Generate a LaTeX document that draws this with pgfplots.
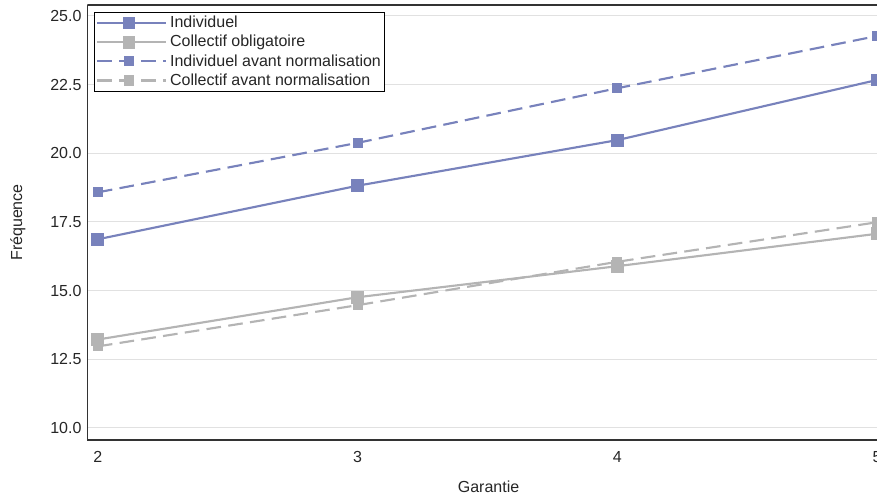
\documentclass[border=0pt]{standalone}
\usepackage{pgfplots}
\pgfplotsset{compat=1.18}
\usepackage{fontspec}
\setmainfont{Liberation Sans}
\definecolor{cblue}{RGB}{120,130,188}
\definecolor{cgray}{RGB}{180,180,180}
\definecolor{gridc}{RGB}{225,225,225}
\begin{document}
\begin{tikzpicture}[x=1pt,y=1pt]
\begin{axis}[
  scale only axis,
  width=592.1pt, height=326.25pt,
  xmin=1.96, xmax=5.0,
  ymin=9.56, ymax=25.4,
  xtick={2,3,4,5},
  ytick={10,12.5,15,17.5,20,22.5,25},
  yticklabel style={/pgf/number format/fixed,/pgf/number format/fixed zerofill,/pgf/number format/precision=1},
  /pgf/number format/assume math mode=true,
  major tick length=0pt,
  ymajorgrids, grid style={gridc, line width=0.75pt},
  axis line style={black!80, line width=1pt},
  axis x line*=bottom, axis y line*=left,
  ticklabel style={font=\fontsize{12}{14}\selectfont, text=black!85},
  xticklabel style={yshift=-5pt},
  yticklabel style={xshift=-1pt},
  xlabel={Garantie}, ylabel={Fréquence},
  label style={font=\fontsize{12}{14}\selectfont, text=black!85},
  xlabel style={at={(axis description cs:0.508,-0.108)}, anchor=center},
  ylabel style={at={(axis description cs:-0.088,0.5)}, anchor=center},
  clip marker paths=true,
  legend style={at={(0,1)}, anchor=north west, xshift=5pt, yshift=-5pt,
    draw=black, line width=0.75pt, fill=white, inner sep=1pt,
    font=\fontsize{12}{14}\selectfont, row sep=0.2pt, text=black!85},
  legend cell align=left,
  legend image code/.code={
    \path (0pt,0pt) -- (52pt,0pt);
    \draw[#1, mark repeat=2, mark phase=2] plot coordinates {(0pt,0pt) (24pt,0pt) (48pt,0pt)};
  },
]
\draw[black!80, line width=1pt] (rel axis cs:0,1) -- (rel axis cs:1,1);
\addplot[cblue, line width=1.6pt, mark=square*, mark size=4pt, mark options={solid}]
  coordinates {(2,16.87) (3,18.82) (4,20.48) (5,22.67)};
\addlegendentry{Individuel}
\addplot[cgray, line width=1.6pt, mark=square*, mark size=4pt, mark options={solid}]
  coordinates {(2,13.22) (3,14.76) (4,15.89) (5,17.07)};
\addlegendentry{Collectif obligatoire}
\addplot[cblue, line width=1.6pt, dash pattern=on 11pt off 5.5pt, mark=square*, mark size=3pt, mark options={solid}]
  coordinates {(2,18.58) (3,20.38) (4,22.37) (5,24.27)};
\addlegendentry{Individuel avant normalisation}
\addplot[cgray, line width=1.6pt, dash pattern=on 11pt off 5.5pt, mark=square*, mark size=3pt, mark options={solid}]
  coordinates {(2,12.97) (3,14.47) (4,16.05) (5,17.49)};
\addlegendentry{Collectif avant normalisation}
\end{axis}
\pgfresetboundingbox
\path (-65.6pt,-42.75pt) rectangle (592.1pt,330pt);
\end{tikzpicture}
\end{document}
